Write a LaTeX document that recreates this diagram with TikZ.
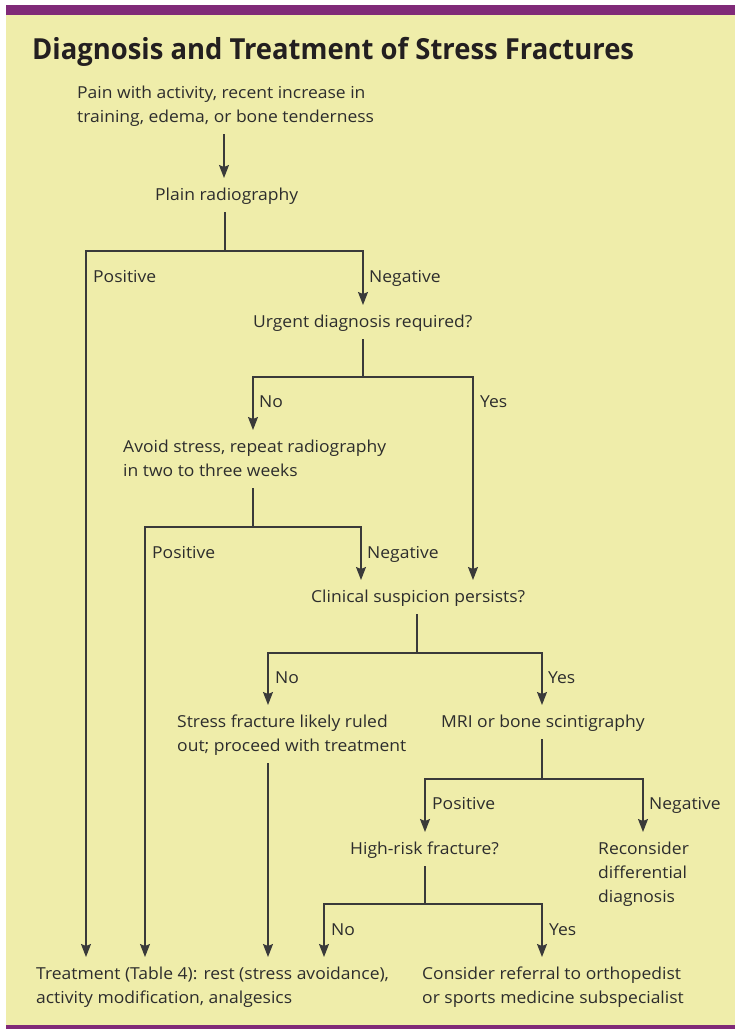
\documentclass[tikz,border=0pt]{standalone}
\usepackage{fontspec}
\setmainfont{Open Sans}[FakeStretch=1.06]
\newfontfamily\titlefont{Open Sans}[FakeStretch=0.945]
\usetikzlibrary{arrows.meta}
\definecolor{bgyellow}{RGB}{239,237,170}
\definecolor{barpurple}{RGB}{128,42,120}
\definecolor{ink}{RGB}{45,45,45}
\definecolor{titleink}{RGB}{35,31,32}
\definecolor{linecol}{RGB}{58,58,58}
\newcommand{\mlines}[1]{\begin{tabular}[t]{@{}l@{}}#1\end{tabular}}
\begin{document}
\begin{tikzpicture}[x=1pt,y=-1pt,
  txt/.style={anchor=base west, inner xsep=0pt, inner ysep=5pt, text=ink, font=\fontsize{16.5}{24}\selectfont},
  lbl/.style={anchor=base west, inner sep=0pt, text=ink, font=\fontsize{16.5}{24}\selectfont},
  conn/.style={draw=linecol, line width=1.3pt},
  arr/.style={conn, -{Stealth[length=13pt,width=10pt,inset=2pt]}}]
% background
\fill[white] (0,0) rectangle (735,1029);
\fill[bgyellow] (6,15) rectangle (735,1025);
\fill[barpurple] (6,5) rectangle (735,15);
\fill[barpurple] (6,1025) rectangle (735,1029);
\useasboundingbox (0,0) rectangle (735,1029);
% title
\node[anchor=base west, inner sep=0pt, text=titleink, font=\titlefont\bfseries\fontsize{29}{34}\selectfont] (title) at (32,59) {Diagnosis and Treatment of Stress Fractures};
% nodes
\node[txt] (pain) at (77,98) {\mlines{Pain with activity, recent increase in\\training, edema, or bone tenderness}};
\node[txt] (plain) at (155,200) {\mlines{Plain radiography}};
\node[txt] (urgent) at (253,327) {\mlines{Urgent diagnosis required?}};
\node[txt] (avoid) at (123,452) {\mlines{Avoid stress, repeat radiography\\in two to three weeks}};
\node[txt] (clin) at (311,602) {\mlines{Clinical suspicion persists?}};
\node[txt] (stress) at (177,727) {\mlines{Stress fracture likely ruled\\out; proceed with treatment}};
\node[txt] (mri) at (441,727) {\mlines{MRI or bone scintigraphy}};
\node[txt] (high) at (350,854) {\mlines{High-risk fracture?}};
\node[txt] (recon) at (598,854) {\mlines{Reconsider\\differential\\diagnosis}};
\node[txt] (treat) at (36,979) {\mlines{Treatment (Table 4): rest (stress avoidance),\\activity modification, analgesics}};
\node[txt] (consider) at (422,979) {\mlines{Consider referral to orthopedist\\or sports medicine subspecialist}};
% junctions
\coordinate (c0) at (224,0);
\coordinate (J1) at (225,251); \coordinate (J1L) at (86,251); \coordinate (J1R) at (363,251);
\coordinate (J2) at (363,377); \coordinate (J2L) at (253,377); \coordinate (J2R) at (473,377);
\coordinate (J3) at (253,527); \coordinate (J3L) at (145,527); \coordinate (J3R) at (361,527);
\coordinate (J4) at (417,653); \coordinate (J4L) at (268,653); \coordinate (J4R) at (542,653);
\coordinate (J5) at (542,779); \coordinate (J5L) at (425,779); \coordinate (J5R) at (643,779);
\coordinate (J6) at (425,904); \coordinate (J6L) at (324,904); \coordinate (J6R) at (542,904);
% connectors
\draw[arr] (pain.south -| c0) -- (plain.north -| c0);
\draw[conn] (plain.south -| J1) -- (J1);
\draw[arr] (J1) -- (J1L) -- (J1L |- treat.north);
\draw[arr] (J1) -- (J1R) -- (J1R |- urgent.north);
\draw[conn] (urgent.south -| J2) -- (J2);
\draw[arr] (J2) -- (J2L) -- (J2L |- avoid.north);
\draw[arr] (J2) -- (J2R) -- (J2R |- clin.north);
\draw[conn] (avoid.south -| J3) -- (J3);
\draw[arr] (J3) -- (J3L) -- (J3L |- treat.north);
\draw[arr] (J3) -- (J3R) -- (J3R |- clin.north);
\draw[conn] (clin.south -| J4) -- (J4);
\draw[arr] (J4) -- (J4L) -- (J4L |- stress.north);
\draw[arr] (J4) -- (J4R) -- (J4R |- mri.north);
\draw[arr] (stress.south -| J4L) -- (J4L |- treat.north);
\draw[conn] (mri.south -| J5) -- (J5);
\draw[arr] (J5) -- (J5L) -- (J5L |- high.north);
\draw[arr] (J5) -- (J5R) -- (J5R |- recon.north);
\draw[conn] (high.south -| J6) -- (J6);
\draw[arr] (J6) -- (J6L) -- (J6L |- treat.north);
\draw[arr] (J6) -- (J6R) -- (J6R |- consider.north);
% labels
\node[lbl] (l1p) at (93,282) {Positive};
\node[lbl] (l1n) at (369,282) {Negative};
\node[lbl] (l2n) at (259,407) {No};
\node[lbl] (l2y) at (480,407) {Yes};
\node[lbl] (l3p) at (152,558) {Positive};
\node[lbl] (l3n) at (367,558) {Negative};
\node[lbl] (l4n) at (275,683) {No};
\node[lbl] (l4y) at (548,683) {Yes};
\node[lbl] (l5p) at (432,809) {Positive};
\node[lbl] (l5n) at (649,809) {Negative};
\node[lbl] (l6n) at (331,935) {No};
\node[lbl] (l6y) at (549,935) {Yes};
\end{tikzpicture}
\end{document}
